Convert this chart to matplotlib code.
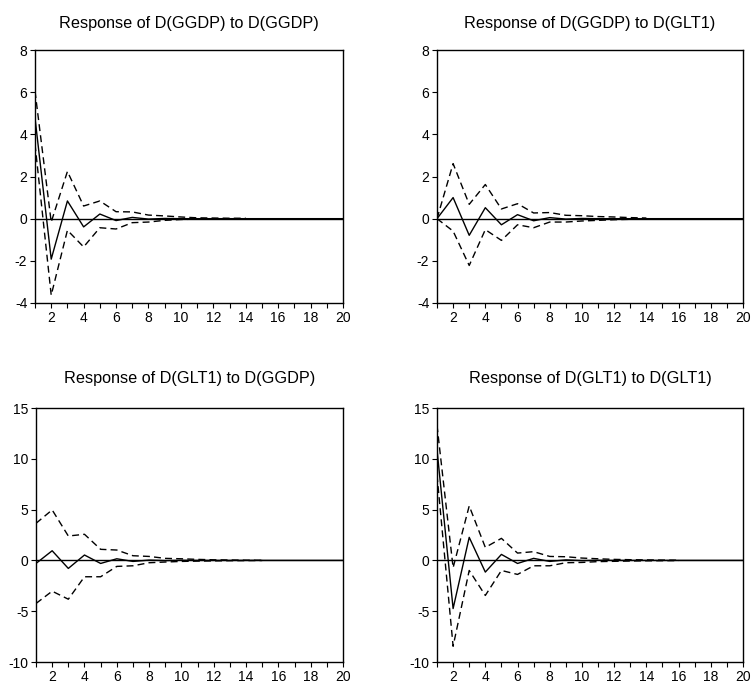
import matplotlib
matplotlib.use("Agg")
import matplotlib.pyplot as plt
import numpy as np

plt.rcParams['font.family'] = ['Liberation Sans', 'DejaVu Sans']

periods = list(range(1, 21))

titles = ["Response of D(GGDP) to D(GGDP)", "Response of D(GGDP) to D(GLT1)",
          "Response of D(GLT1) to D(GGDP)", "Response of D(GLT1) to D(GLT1)"]

# Panel 1: D(GGDP) -> D(GGDP)
resp_gg_gg = [4.78, -1.92, 0.84, -0.39, 0.22, -0.09, 0.06, -0.02, 0.01, 0.0,
              0.0, 0.0, 0.0, 0.0, 0.0, 0.0, 0.0, 0.0, 0.0, 0.0]
up_gg_gg = [6.05, -0.16, 2.24, 0.60, 0.84, 0.33, 0.32, 0.17, 0.13, 0.08,
            0.04, 0.03, 0.02, 0.02]
lo_gg_gg = [3.53, -3.63, -0.55, -1.34, -0.43, -0.49, -0.19, -0.16, -0.08, -0.04,
            -0.02, -0.01, -0.01, 0.0]

# Panel 2: D(GGDP) -> D(GLT1)
resp_gg_gl = [0.0, 1.00, -0.79, 0.52, -0.29, 0.19, -0.10, 0.05, -0.02, 0.01,
              0.0, 0.0, 0.0, 0.0, 0.0, 0.0, 0.0, 0.0, 0.0, 0.0]
up_gg_gl = [0.0, 2.61, 0.68, 1.62, 0.46, 0.71, 0.27, 0.29, 0.16, 0.14,
            0.10, 0.08, 0.05, 0.03]
lo_gg_gl = [0.0, -0.59, -2.22, -0.52, -1.03, -0.29, -0.43, -0.16, -0.16, -0.11,
            -0.08, -0.05, -0.03, -0.01]

# Panel 3: D(GLT1) -> D(GGDP)
resp_gl_gg = [-0.30, 0.95, -0.79, 0.53, -0.30, 0.16, -0.10, 0.03, -0.02, 0.01,
              0.0, 0.0, 0.0, 0.0, 0.0, 0.0, 0.0, 0.0, 0.0, 0.0]
up_gl_gg = [3.65, 4.97, 2.40, 2.57, 1.09, 1.02, 0.46, 0.39, 0.20, 0.16,
            0.10, 0.06, 0.04, 0.02, 0.01]
lo_gl_gg = [-4.24, -3.03, -3.82, -1.61, -1.61, -0.59, -0.53, -0.23, -0.16, -0.10,
            -0.07, -0.05, -0.03, -0.02, -0.01]

# Panel 4: D(GLT1) -> D(GLT1)
resp_gl_gl = [10.9, -4.74, 2.27, -1.15, 0.59, -0.30, 0.20, -0.10, 0.05, -0.02,
              0.01, 0.0, 0.0, 0.0, 0.0, 0.0, 0.0, 0.0, 0.0, 0.0]
up_gl_gl = [13.3, -0.72, 5.36, 1.28, 2.17, 0.72, 0.86, 0.39, 0.36, 0.23,
            0.16, 0.10, 0.07, 0.05, 0.03, 0.02]
lo_gl_gl = [8.4, -8.45, -0.99, -3.45, -0.99, -1.38, -0.53, -0.53, -0.23, -0.20,
            -0.12, -0.09, -0.06, -0.04, -0.03, -0.02]

responses = [resp_gg_gg, resp_gg_gl, resp_gl_gg, resp_gl_gl]
uppers = [up_gg_gg, up_gg_gl, up_gl_gg, up_gl_gl]
lowers = [lo_gg_gg, lo_gg_gl, lo_gl_gg, lo_gl_gl]

ylims = [(-4, 8), (-4, 8), (-10, 15), (-10, 15)]
yticks = [[-4, -2, 0, 2, 4, 6, 8], [-4, -2, 0, 2, 4, 6, 8],
          [-10, -5, 0, 5, 10, 15], [-10, -5, 0, 5, 10, 15]]
xtick_labels = ["", "2", "", "4", "", "6", "", "8", "", "10", "", "12", "", "14",
                "", "16", "", "18", "", "20"]

W, H = 752, 686
fig = plt.figure(figsize=(W / 100, H / 100), dpi=100)

boxes = [(35, 50, 343, 303), (437, 50, 743, 303),
         (36, 408, 343, 662), (437, 408, 743, 662)]

for i in range(4):
    l, t, r, b = boxes[i]
    ax = fig.add_axes([l / W, 1 - b / H, (r - l) / W, (b - t) / H])
    ax.axhline(0, color='black', lw=1.0, zorder=1)
    ax.plot(periods, responses[i], color='black', lw=1.0, zorder=3)
    n_up = len(uppers[i])
    ax.plot(periods[:n_up], uppers[i], color='black', lw=1.0,
            linestyle=(0, (5, 3)), zorder=2)
    n_lo = len(lowers[i])
    ax.plot(periods[:n_lo], lowers[i], color='black', lw=1.0,
            linestyle=(0, (5, 3)), zorder=2)
    ax.set_xlim(1, 20)
    ax.set_ylim(*ylims[i])
    ax.set_yticks(yticks[i])
    ax.set_yticklabels([str(v) for v in yticks[i]])
    ax.set_xticks(periods)
    ax.set_xticklabels(xtick_labels)
    ax.tick_params(axis='both', direction='out', length=3.5, width=0.8,
                   labelsize=10, pad=2, colors='black')
    for s in ax.spines.values():
        s.set_linewidth(1.0)
        s.set_color('black')
    cx = (l + r) / 2 / W
    fig.text(cx, 1 - (28 if i < 2 else 383) / H, titles[i], ha='center',
             va='baseline', fontsize=11.7, color='black')

fig.savefig("out.png", dpi=100)
